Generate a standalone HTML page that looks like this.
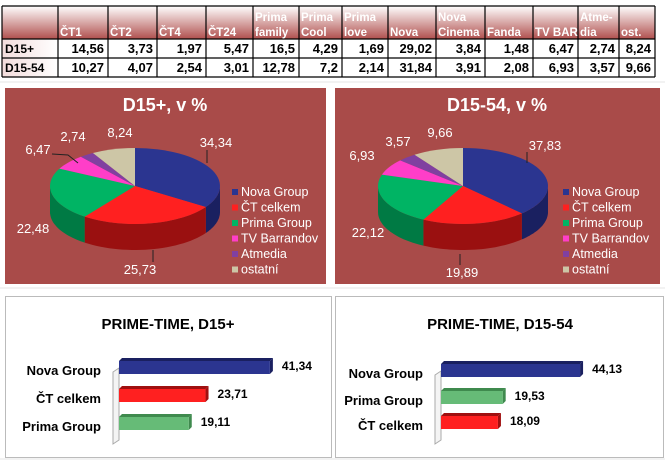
<!DOCTYPE html>
<html><head><meta charset="utf-8">
<style>
body{margin:0;background:#fff;width:665px;height:463px;overflow:hidden;font-family:"Liberation Sans",sans-serif;}
</style></head><body>
<svg id="s" width="665" height="463" xmlns="http://www.w3.org/2000/svg" font-family="Liberation Sans, sans-serif">
<defs>
<linearGradient id="hg" x1="0" y1="0" x2="0" y2="1"><stop offset="0" stop-color="#fff"/><stop offset="1" stop-color="#b0504e"/></linearGradient>
<linearGradient id="rg" x1="0" y1="0" x2="1" y2="0"><stop offset="0" stop-color="#f3dcdc"/><stop offset="1" stop-color="#fff"/></linearGradient>
</defs>
<g stroke="#e4e4e4" stroke-width="1">
<line x1="0" y1="82" x2="665" y2="82"/><line x1="0" y1="288" x2="665" y2="288"/>
<line x1="0" y1="459" x2="665" y2="459"/>
</g>
<g id="tbl"></g>
<rect x="5" y="88" width="321" height="196" fill="#a94b49"/>
<rect x="335" y="88" width="325" height="196" fill="#a94b49"/>
<g id="pies"></g>
<rect x="5.5" y="296.5" width="326" height="161" fill="#fff" stroke="#bbb"/>
<rect x="335.5" y="296.5" width="328" height="161" fill="#fff" stroke="#bbb"/>
<g id="bars"></g>
</svg>
<script>
var S=document.getElementById('s'),NS='http://www.w3.org/2000/svg';
function el(p,t,a,txt){var e=document.createElementNS(NS,t);for(var k in a)e.setAttribute(k,a[k]);if(txt!=null)e.textContent=txt;p.appendChild(e);return e;}
var T=document.getElementById('tbl');
var xs=[2,58,108,157,206,253,299,342,388,436,485,533,578,619,655];
var hdr=[["","ČT1"],["","ČT2"],["","ČT4"],["","ČT24"],["Prima","family"],["Prima","Cool"],["Prima","love"],["","Nova"],["Nova","Cinema"],["","Fanda"],["","TV BAR"],["Atme-","dia"],["","ost."]];
var r1=["14,56","3,73","1,97","5,47","16,5","4,29","1,69","29,02","3,84","1,48","6,47","2,74","8,24"];
var r2=["10,27","4,07","2,54","3,01","12,78","7,2","2,14","31,84","3,91","2,08","6,93","3,57","9,66"];
el(T,'rect',{x:2,y:6,width:653,height:33,fill:'url(#hg)'});
el(T,'rect',{x:2,y:39,width:56,height:38,fill:'url(#rg)'});
for(var i=0;i<xs.length;i++)el(T,'line',{x1:xs[i],y1:6,x2:xs[i],y2:77,stroke:'#000','stroke-width':1.2});
[6,39,58,77].forEach(function(y){el(T,'line',{x1:2,y1:y,x2:655,y2:y,stroke:'#000','stroke-width':1.2});});
el(T,'text',{x:5,y:53,'font-size':12,'font-weight':'bold'},'D15+');
el(T,'text',{x:5,y:72,'font-size':12,'font-weight':'bold'},'D15-54');
for(i=0;i<13;i++){var x0=xs[i+1],x1=xs[i+2];
 el(T,'text',{x:x0+2,y:21,'font-size':11.5,'font-weight':'bold',fill:'#fff'},hdr[i][0]);
 el(T,'text',{x:x0+2,y:36,'font-size':11.5,'font-weight':'bold',fill:'#fff'},hdr[i][1]);
 el(T,'text',{x:x1-4,y:53,'font-size':13,'font-weight':'bold','text-anchor':'end'},r1[i]);
 el(T,'text',{x:x1-4,y:72,'font-size':13,'font-weight':'bold','text-anchor':'end'},r2[i]);
}
var P=document.getElementById('pies');
var cols=['#2b3590','#ff2020','#00b464','#ff3ec8','#8040a0','#cdc6a6'];
var dark=['#1a2060','#9a1010','#007a44','#a02880','#502870','#8a8470'];
var names=['Nova Group','ČT celkem','Prima Group','TV Barrandov','Atmedia','ostatní'];
function pie(cx,cy,rx,ry,d,vals,title,tx,lx,ly,labels){
 el(P,'text',{x:tx,y:111,'font-size':18,'font-weight':'bold',fill:'#fff','text-anchor':'middle'},title);
 var tot=vals.reduce(function(a,b){return a+b},0),a=0,angs=[];
 vals.forEach(function(v){angs.push([a,a+v/tot*2*Math.PI]);a+=v/tot*2*Math.PI;});
 function pt(t){return [cx+rx*Math.sin(t),cy-ry*Math.cos(t)];}
 angs.forEach(function(g,k){var s=Math.max(g[0],Math.PI/2),e=Math.min(g[1],3*Math.PI/2);if(e<=s)return;
  var n=30,pts=[];for(var j=0;j<=n;j++)pts.push(pt(s+(e-s)*j/n));
  var q=pts.map(function(z){return z[0].toFixed(1)+','+z[1].toFixed(1)}).join(' L');
  var q2=pts.slice().reverse().map(function(z){return z[0].toFixed(1)+','+(z[1]+d).toFixed(1)}).join(' L');
  el(P,'path',{d:'M'+q+' L'+q2+'Z',fill:dark[k]});});
 angs.forEach(function(g,k){var p0=pt(g[0]),p1=pt(g[1]);var lg=(g[1]-g[0])>Math.PI?1:0;
  el(P,'path',{d:'M'+cx+','+cy+' L'+p0[0]+','+p0[1]+' A'+rx+','+ry+' 0 '+lg+' 1 '+p1[0]+','+p1[1]+'Z',fill:cols[k]});});
 for(var k=0;k<6;k++){el(P,'rect',{x:lx,y:ly+k*15.5-7,width:6,height:6,fill:cols[k]});
  el(P,'text',{x:lx+9,y:ly+k*15.5,'font-size':12.5,fill:'#fff'},names[k]);}
 labels.forEach(function(l){el(P,'text',{x:l[0],y:l[1],'font-size':13,fill:'#fff','text-anchor':'middle'},l[2]);});
}
pie(135,186,85,38,26,[34.34,25.73,22.48,6.47,2.74,8.24],'D15+, v %',165,232,196,
 [[216,147,'34,34'],[140,274,'25,73'],[33,233,'22,48'],[38,154,'6,47'],[73,141,'2,74'],[120,137,'8,24']]);
pie(463,186,85,38,26,[37.83,19.89,22.12,6.93,3.57,9.66],'D15-54, v %',497,563,196,
 [[545,150,'37,83'],[462,277,'19,89'],[368,237,'22,12'],[362,160,'6,93'],[398,146,'3,57'],[440,137,'9,66']]);
el(P,'polyline',{points:'52,154 68,155 78,163',fill:'none',stroke:'#222'});
el(P,'line',{x1:207,y1:150,x2:207,y2:163,stroke:'#222'});
el(P,'line',{x1:153,y1:250,x2:153,y2:262,stroke:'#222'});
el(P,'line',{x1:527,y1:152,x2:527,y2:163,stroke:'#222'});
el(P,'line',{x1:460,y1:254,x2:460,y2:265,stroke:'#222'});
var B=document.getElementById('bars');
var bc={n:['#2b3590','#1a2060'],c:['#ff2020','#a01010'],p:['#66bb77','#3f8a4e']};
function bars(tx,title,ax,top,bot,items){
 el(B,'text',{x:tx,y:329,'font-size':15,'font-weight':'bold','text-anchor':'middle'},title);
 el(B,'polygon',{points:(ax-4)+','+(top+4)+' '+(ax+2)+','+top+' '+(ax+2)+','+bot+' '+(ax-4)+','+(bot+4),fill:'#f4f4f4',stroke:'#aaa'});
 items.forEach(function(it){var w=it[1]*3.65,y=it[2],c=bc[it[3]];
  el(B,'polygon',{points:(ax+2)+','+y+' '+(ax+2+w)+','+y+' '+(ax+5+w)+','+(y-3)+' '+(ax+5)+','+(y-3),fill:c[1]});
  el(B,'polygon',{points:(ax+2+w)+','+y+' '+(ax+5+w)+','+(y-3)+' '+(ax+5+w)+','+(y+10)+' '+(ax+2+w)+','+(y+13),fill:c[1]});
  el(B,'rect',{x:ax+2,y:y,width:w,height:13,fill:c[0]});
  el(B,'text',{x:ax+14+w,y:y+9,'font-size':12,'font-weight':'bold'},it[4]);
  el(B,'text',{x:ax-16,y:y+14,'font-size':13,'font-weight':'bold','text-anchor':'end'},it[0]);});
}
bars(168,'PRIME-TIME, D15+',117,368,440,[['Nova Group',41.34,361,'n','41,34'],['ČT celkem',23.71,389,'c','23,71'],['Prima Group',19.11,417,'p','19,11']]);
bars(500,'PRIME-TIME, D15-54',439,371,440,[['Nova Group',38.1,364,'n','44,13'],['Prima Group',16.9,391,'p','19,53'],['ČT celkem',15.6,416,'c','18,09']]);
</script>
</body></html>
